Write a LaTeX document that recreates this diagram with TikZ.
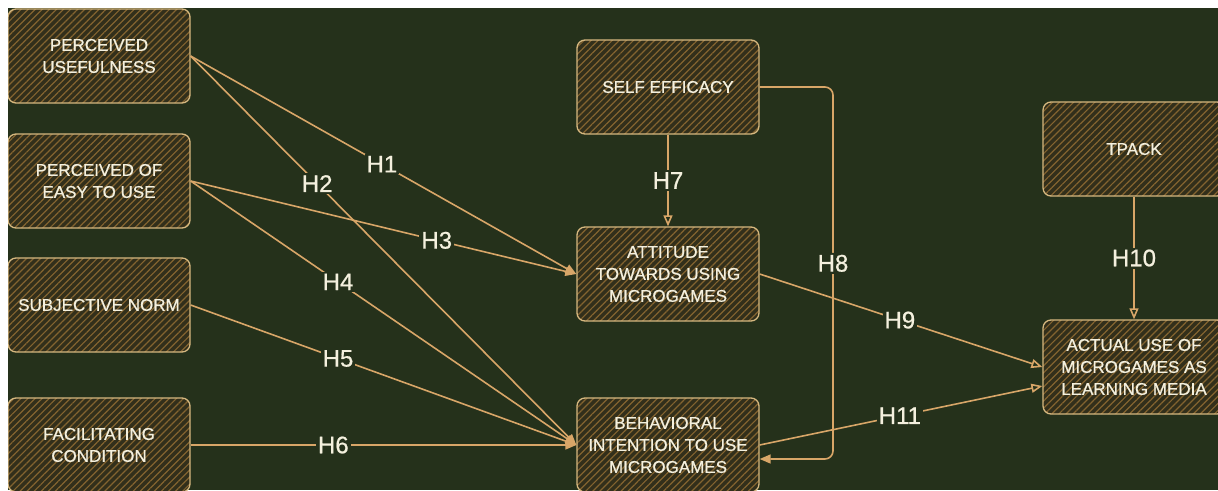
\documentclass[tikz,border=0pt]{standalone}
\usepackage{fontspec}
\setmainfont{Liberation Sans}
\newfontfamily\chalkfont[FakeBold=0.7]{Liberation Sans}
\usetikzlibrary{arrows.meta,positioning,calc,patterns.meta}
\definecolor{BoardGreen}{RGB}{37,49,27}
\definecolor{BoxBase}{RGB}{50,47,27}
\definecolor{HatchBrown}{RGB}{132,100,48}
\definecolor{BoxEdge}{RGB}{214,184,128}
\definecolor{LineTan}{RGB}{216,166,104}
\definecolor{ChalkText}{RGB}{244,240,222}

\begin{document}
\begin{tikzpicture}[x=1pt,y=-1pt,
    box/.style={draw=BoxEdge,line width=1.3pt,rounded corners=8pt,
                preaction={fill=BoxBase},
                pattern={Lines[angle=45,distance=5pt,line width=1.2pt]},
                pattern color=HatchBrown,
                minimum width=182pt,minimum height=94pt,align=center,
                text=ChalkText,font=\chalkfont\fontsize{17}{22}\selectfont},
    lbl/.style={fill=BoardGreen,text=ChalkText,inner sep=2pt,
                font=\chalkfont\fontsize{24}{24}\selectfont},
    arr/.style={-{Triangle[length=11pt,width=9pt]},LineTan,line width=1.6pt},
    arro/.style={-{Triangle[open,length=11pt,width=9pt]},LineTan,line width=1.6pt}
  ]
    % canvas
    \useasboundingbox (0,0) rectangle (1218,490);
    \fill[white] (0,0) rectangle (1218,490);
    \fill[BoardGreen] (8,8) rectangle (1218,490);
    \clip (8,8) rectangle (1218,490);

    % left column
    \node[box] (pu)  at (99,56)   {PERCEIVED\\USEFULNESS};
    \node[box] (peu) at (99,181)  {PERCEIVED OF\\EASY TO USE};
    \node[box] (sn)  at (99,305)  {SUBJECTIVE NORM};
    \node[box] (fc)  at (99,445)  {FACILITATING\\CONDITION};

    % middle column
    \node[box] (se)  at (668,87)  {SELF EFFICACY};
    \node[box] (att) at (668,274) {ATTITUDE\\TOWARDS USING\\MICROGAMES};
    \node[box] (bi)  at (668,445) {BEHAVIORAL\\INTENTION TO USE\\MICROGAMES};

    % right column
    \node[box] (tpack) at (1134,149) {TPACK};
    \node[box] (act)   at (1134,367) {ACTUAL USE OF\\MICROGAMES AS\\LEARNING MEDIA};

    % hypotheses
    \draw[arr] (pu.east)  -- node[lbl,pos=0.496] (h1) {H1} (att.west);
    \draw[arr] (pu.east)  -- node[lbl,pos=0.328] (h2) {H2} (bi.west);
    \draw[arr] (peu.east) -- node[lbl,pos=0.638] (h3) {H3} (att.west);
    \draw[arr] (peu.east) -- node[lbl,pos=0.382] (h4) {H4} (bi.west);
    \draw[arr] (sn.east)  -- node[lbl,pos=0.382] (h5) {H5} (bi.west);
    \draw[arr] (fc.east)  -- node[lbl,pos=0.37]  (h6) {H6} (bi.west);
    \draw[arro] (se.south) -- node[lbl] (h7) {H7} (att.north);
    \coordinate (h8_turn) at (833,459);
    \draw[arr,rounded corners=8pt] (se.east) -| node[lbl,pos=0.737] (h8) {H8}
      (h8_turn) -- ($(bi.east)+(0,14)$);
    \draw[arro] (att.east) -- node[lbl,pos=0.496] (h9) {H9} (act.west);
    \draw[arro] (tpack.south) -- node[lbl] (h10) {H10} (act.north);
    \draw[arro] (bi.east) -- node[lbl,pos=0.496] (h11) {H11}
      ($(act.west)+(0,19)$);
  \end{tikzpicture}
\end{document}
